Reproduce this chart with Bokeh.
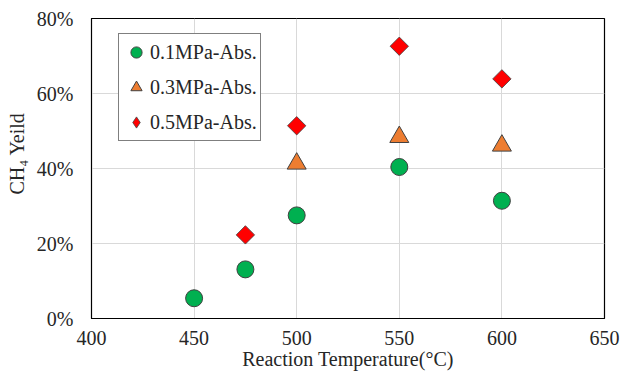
import math
from bokeh.plotting import figure
from bokeh.models import Range1d, NumeralTickFormatter, FixedTicker, Legend, LegendItem
from bokeh.embed import file_html
from bokeh.resources import INLINE

# Data
temp_01 = [450, 475, 500, 550, 600]
yield_01 = [0.054, 0.131, 0.275, 0.404, 0.314]
temp_03 = [500, 550, 600]
yield_03 = [0.413, 0.484, 0.461]
temp_05 = [475, 500, 550, 600]
yield_05 = [0.223, 0.514, 0.726, 0.639]
series_labels = ["0.1MPa-Abs.", "0.3MPa-Abs.", "0.5MPa-Abs."]
x_ticks = [400, 450, 500, 550, 600, 650]
y_ticks = [0, 0.2, 0.4, 0.6, 0.8]

FONT = "Liberation Serif"

p = figure(width=621, height=374, output_backend="svg", toolbar_location=None,
           x_range=Range1d(400, 650), y_range=Range1d(0, 0.8),
           min_border_left=91, min_border_right=17, min_border_top=18, min_border_bottom=56)

p.outline_line_color = "black"
p.outline_line_width = 1.2
p.background_fill_color = "white"
p.border_fill_color = "white"

p.xgrid.grid_line_color = "#d9d9d9"
p.ygrid.grid_line_color = "#d9d9d9"
p.xgrid.grid_line_width = 1
p.ygrid.grid_line_width = 1

p.xaxis.ticker = FixedTicker(ticks=x_ticks)
p.yaxis.ticker = FixedTicker(ticks=y_ticks)
p.yaxis.formatter = NumeralTickFormatter(format="0%")

for ax in (p.xaxis[0], p.yaxis[0]):
    ax.axis_line_color = "black"
    ax.major_tick_out = 0
    ax.major_tick_in = 0
    ax.minor_tick_out = 0
    ax.minor_tick_in = 0
    ax.major_label_text_font = FONT
    ax.major_label_text_font_size = "20px"
    ax.major_label_text_color = "#262626"
    ax.axis_label_text_font = FONT
    ax.axis_label_text_font_size = "20px"
    ax.axis_label_text_font_style = "normal"
    ax.axis_label_text_color = "#262626"

p.xaxis.axis_label = "Reaction Temperature(°C)"
p.yaxis.axis_label = "\u00a0" * 6 + "CH₄ Yeild"
p.xaxis.major_label_standoff = 12
p.xaxis.axis_label_standoff = 0
p.yaxis.major_label_standoff = 18
p.yaxis.axis_label_standoff = 6

r1 = p.scatter(temp_01, yield_01, marker="circle", size=17, fill_color="#00B050",
               line_color="#404040", line_width=1)
r2 = p.scatter(temp_03, yield_03, marker="triangle", size=19, fill_color="#ED7D31",
               line_color="#404040", line_width=1)
r3 = p.scatter(temp_05, yield_05, marker="square", size=13, angle=math.pi / 4,
               fill_color="#FF0000", line_color="#404040", line_width=0.8)
# hidden twin of the 0.5MPa series, used only for its diamond legend glyph
r3_leg = p.scatter(temp_05, yield_05, marker="diamond", size=13,
                   fill_color="#FF0000", line_color="#404040", line_width=0.8,
                   visible=False)

legend = Legend(items=[LegendItem(label=series_labels[0], renderers=[r1]),
                       LegendItem(label=series_labels[1], renderers=[r2]),
                       LegendItem(label=series_labels[2], renderers=[r3_leg])],
                location=(27, 177))
legend.label_text_font = FONT
legend.label_text_font_size = "20px"
legend.label_text_color = "#262626"
legend.border_line_color = "black"
legend.border_line_width = 1
legend.glyph_width = 28
legend.glyph_height = 30
legend.spacing = 5
legend.padding = 3
legend.margin = 0
legend.label_standoff = 0
legend.background_fill_alpha = 1
legend.inactive_fill_alpha = 0
p.add_layout(legend)

open("out.html", "w").write(file_html(p, INLINE))
